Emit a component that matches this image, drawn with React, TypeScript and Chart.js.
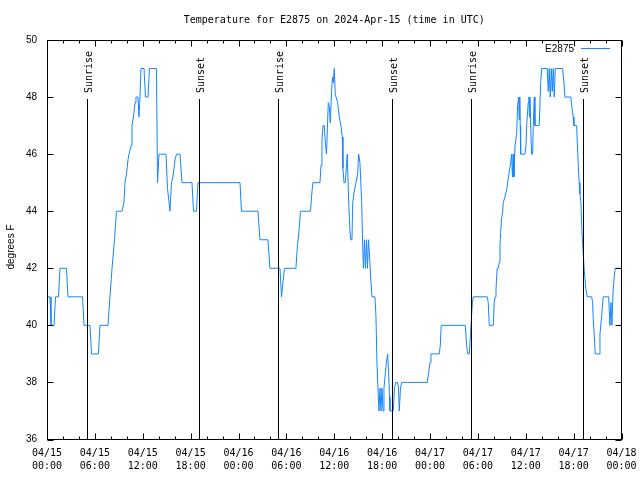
import React, { useEffect, useRef } from "react";
import { Chart, registerables } from "chart.js";

Chart.register(...registerables);

// hours since 2024-04-15 00:00 UTC
const hours = [
  0, 0.38, 0.5, 0.88, 1.07, 1.44, 1.63, 2.44, 2.63, 4.45,
  4.64, 5.39, 5.58, 6.45, 6.64, 7.64, 7.89, 8.15, 8.46, 8.71,
  9.4, 9.65, 9.77, 9.96, 10.15, 10.28, 10.4, 10.53, 10.65, 10.84,
  11.03, 11.15, 11.4, 11.53, 11.65, 11.78, 12.16, 12.34, 12.66, 12.84,
  13.72, 13.85, 14.04, 14.91, 15.1, 15.41, 15.6, 15.79, 16.04, 16.23,
  16.67, 16.92, 18.17, 18.36, 18.73, 18.92, 24.19, 24.37, 26.44, 26.69,
  27.69, 27.94, 29.2, 29.39, 29.76, 31.2, 31.39, 31.58, 31.77, 33.02,
  33.21, 33.33, 34.21, 34.34, 34.46, 34.59, 34.75, 34.9, 35.03, 35.25,
  35.38, 35.5, 35.68, 35.8, 35.88, 36.0, 36.13, 36.43, 36.63, 36.84,
  37.01, 37.09, 37.22, 37.38, 37.56, 37.63, 37.81, 37.97, 38.06, 38.22,
  38.31, 38.51, 38.72, 38.93, 39.06, 39.22, 39.44, 39.56, 39.66, 39.79,
  39.91, 40.04, 40.16, 40.29, 40.41, 40.6, 40.73, 41.1, 41.23, 41.35,
  41.48, 41.6, 41.73, 41.85, 41.98, 42.11, 42.23, 42.36, 42.54, 42.69,
  42.79, 42.92, 42.98, 43.4, 43.55, 43.7, 43.95, 44.05, 44.15, 44.3,
  44.45, 47.66, 47.81, 48.0, 48.12, 49.16, 49.29, 49.41, 52.42, 52.59,
  52.72, 52.94, 53.07, 53.2, 53.32, 53.42, 55.18, 55.3, 55.43, 55.93,
  56.05, 56.18, 56.27, 56.35, 56.43, 56.55, 56.68, 56.77, 56.85, 56.98,
  57.11, 57.18, 57.39, 57.61, 57.73, 57.89, 58.11, 58.23, 58.33, 58.43,
  58.52, 58.65, 58.86, 58.98, 59.11, 59.18, 59.25, 59.31, 59.36, 59.9,
  60.03, 60.11, 60.31, 60.4, 60.46, 60.53, 60.59, 60.74, 60.86, 60.94,
  61.07, 61.15, 61.69, 61.87, 61.99, 62.69, 62.82, 62.94, 63.07, 63.2,
  63.32, 63.45, 63.57, 63.7, 64.62, 64.79, 64.91, 65.66, 65.75, 65.95,
  66.04, 66.38, 66.45, 66.58, 66.7, 66.79, 66.92, 67.04, 67.21, 67.33,
  67.54, 67.71, 68.26, 68.38, 68.46, 68.58, 68.71, 69.21, 69.3, 69.51,
  69.64, 69.71, 70.39, 70.55, 70.68, 70.8, 70.89, 70.96, 71.09, 71.21,
  72,
];

// temperature, degrees F
const temps = [
  41, 41, 40, 40, 41, 41, 42, 42, 41, 41,
  40, 40, 39, 39, 40, 40, 41, 42, 43, 44,
  44, 44.3, 45, 45.3, 45.8, 46, 46, 46.3, 47, 47.3,
  47.8, 48, 48, 47.3, 48, 49, 49, 48, 48, 49,
  49, 45, 46, 46, 44.8, 44, 45, 45.2, 45.8, 46,
  46, 45, 45, 44, 44, 45, 45, 44, 44, 43,
  43, 42, 42, 41, 42, 42, 42.8, 43.3, 44, 44,
  44.7, 45, 45, 45.6, 46.5, 47, 47, 46.3, 46, 47.8,
  47.7, 47.1, 48.3, 48.7, 48.5, 49, 48.1, 47.8, 47.3, 47,
  46.6, 45.5, 45, 45, 45.7, 46, 44.3, 43.3, 43, 43,
  44.3, 44.7, 45, 45.3, 46, 45.7, 44.3, 42.8, 42, 43,
  42, 43, 42, 43, 42.5, 41.5, 41, 41, 40.3, 38.7,
  37.8, 37, 37.8, 37, 37.8, 37, 37.8, 38.2, 38.7, 39,
  38.5, 37.5, 37, 37, 37.8, 38, 38, 37.8, 37, 37.8,
  38, 38, 38.3, 38.7, 39, 39, 39.3, 40, 40, 39.3,
  39, 39, 39.7, 40.3, 40.8, 41, 41, 40.8, 40, 40,
  40.8, 41, 41.25, 41.7, 42, 42, 42.2, 42.8, 43.25, 43.75,
  44, 44.3, 44.5, 44.75, 45, 45.3, 45.7, 46, 45.2, 46,
  45.2, 46.3, 46.7, 47.7, 48, 47.2, 48, 47, 46, 46,
  46.3, 47, 47.8, 48, 47.3, 48, 47.2, 46, 46, 47,
  48, 47, 47, 48.5, 49, 49, 48.2, 49, 48, 49,
  48.2, 49, 48, 49, 49, 48.5, 48, 48, 47.7, 47.3,
  47, 47, 46.5, 45.6, 45, 44.6, 44.3, 43.3, 42.5, 41.95,
  41.25, 41, 41, 40.8, 40.2, 39.7, 39, 39, 39.7, 40.3,
  40.8, 41, 41, 40, 40.8, 40, 40.8, 41.25, 41.7, 42,
  42,
];

const eventHours = [5.05, 19.09, 28.98, 43.2, 53.1, 67.2];
const eventLabels = ["Sunrise", "Sunset", "Sunrise", "Sunset", "Sunrise", "Sunset"];

const xTickDates = ["04/15", "04/15", "04/15", "04/15", "04/16", "04/16", "04/16", "04/16", "04/17", "04/17", "04/17", "04/17", "04/18"];
const xTickTimes = ["00:00", "06:00", "12:00", "18:00", "00:00", "06:00", "12:00", "18:00", "00:00", "06:00", "12:00", "18:00", "00:00"];

const titleText = "Temperature for E2875 on 2024-Apr-15 (time in UTC)";
const seriesName = "E2875";
const yAxisTitle = "degrees F";

const LINE_COLOR = "#1684ff";
const MONO = "'DejaVu Sans Mono', monospace";
const SANS = "'Liberation Sans', Arial, sans-serif";

const overlay = {
  id: "overlay",
  afterDatasetsDraw(chart: any) {
    const { ctx, chartArea: a, scales } = chart;
    const xs = scales.x;
    const ys = scales.y;
    const L = Math.round(a.left) + 0.5;
    const R = Math.round(a.right) - 0.5;
    const T = Math.round(a.top) + 0.5;
    const B = Math.round(a.bottom) - 0.5;
    ctx.save();
    ctx.strokeStyle = "#000";
    ctx.fillStyle = "#000";
    ctx.lineWidth = 1;

    // event lines + labels
    ctx.font = `10px ${MONO}`;
    eventHours.forEach((h, i) => {
      const x = Math.round(xs.getPixelForValue(h)) + 0.5;
      ctx.beginPath();
      ctx.moveTo(x, 99);
      ctx.lineTo(x, B);
      ctx.stroke();
      ctx.save();
      ctx.translate(x + 1.5, 93);
      ctx.rotate(-Math.PI / 2);
      ctx.textAlign = "left";
      ctx.textBaseline = "middle";
      ctx.fillText(eventLabels[i], 0, 0);
      ctx.restore();
    });

    // frame
    ctx.strokeRect(L, T, R - L, B - T);

    // x ticks (inward, mirrored)
    ctx.beginPath();
    for (let h = 0; h <= 72; h += 2) {
      const x = Math.round(xs.getPixelForValue(h)) + 0.5;
      const len = h % 6 === 0 ? 6 : 3;
      ctx.moveTo(x, B);
      ctx.lineTo(x, B - len);
      ctx.moveTo(x, T);
      ctx.lineTo(x, T + len);
    }
    // y ticks
    for (let v = 36; v <= 50; v += 2) {
      const y = Math.round(ys.getPixelForValue(v)) + 0.5;
      ctx.moveTo(L, y);
      ctx.lineTo(L + 6, y);
      ctx.moveTo(R, y);
      ctx.lineTo(R - 6, y);
    }
    ctx.stroke();

    // title
    ctx.font = `10px ${MONO}`;
    ctx.textAlign = "center";
    ctx.textBaseline = "middle";
    ctx.fillText(titleText, (a.left + a.right) / 2, 20);

    // legend
    ctx.font = `10px ${SANS}`;
    ctx.textAlign = "right";
    ctx.fillText(seriesName, 574, 49);
    ctx.strokeStyle = LINE_COLOR;
    ctx.beginPath();
    ctx.moveTo(581, 48.5);
    ctx.lineTo(610, 48.5);
    ctx.stroke();

    // y axis title
    ctx.save();
    ctx.translate(11, 247);
    ctx.rotate(-Math.PI / 2);
    ctx.textAlign = "center";
    ctx.textBaseline = "middle";
    ctx.font = `10px ${SANS}`;
    ctx.fillText(yAxisTitle, 0, 0);
    ctx.restore();

    ctx.restore();
  },
};

export default function App() {
  const ref = useRef<HTMLCanvasElement | null>(null);
  useEffect(() => {
    if (!ref.current) return;
    const chart = new Chart(ref.current, {
      type: "line",
      data: {
        datasets: [
          {
            label: seriesName,
            data: hours.map((h, i) => ({ x: h, y: temps[i] })),
            borderColor: LINE_COLOR,
            borderWidth: 1,
            pointRadius: 0,
            tension: 0,
            fill: false,
          },
        ],
      },
      options: {
        responsive: false,
        animation: false,
        events: [],
        layout: { padding: { top: 40, right: 18.5, left: 0, bottom: 0 } },
        plugins: {
          legend: { display: false },
          title: { display: false },
          tooltip: { enabled: false },
        },
        scales: {
          x: {
            type: "linear",
            min: 0,
            max: 72,
            afterFit: (s: any) => {
              s.height = 40.5;
              s.paddingLeft = 0;
              s.paddingRight = 0;
            },
            grid: { display: false, drawTicks: false },
            border: { display: false },
            ticks: {
              stepSize: 6,
              autoSkip: false,
              maxRotation: 0,
              minRotation: 0,
              padding: 8,
              color: "#000",
              font: { family: MONO, size: 10, lineHeight: 1.25 },
              callback: (v: any) => {
                const i = Math.round(Number(v) / 6);
                return [xTickDates[i], xTickTimes[i]];
              },
            },
          },
          y: {
            type: "linear",
            min: 36,
            max: 50,
            afterFit: (s: any) => {
              s.width = 47;
              s.paddingTop = 0;
              s.paddingBottom = 0;
            },
            grid: { display: false, drawTicks: false },
            border: { display: false },
            ticks: {
              stepSize: 2,
              padding: 10,
              color: "#000",
              font: { family: SANS, size: 10 },
            },
          },
        },
      },
      plugins: [overlay],
    });
    return () => chart.destroy();
  }, []);
  return (
    <div style={{ position: "fixed", left: 0, top: 0, width: 640, height: 480, background: "#fff" }}>
      <canvas ref={ref} width={640} height={480} style={{ display: "block" }} />
    </div>
  );
}
